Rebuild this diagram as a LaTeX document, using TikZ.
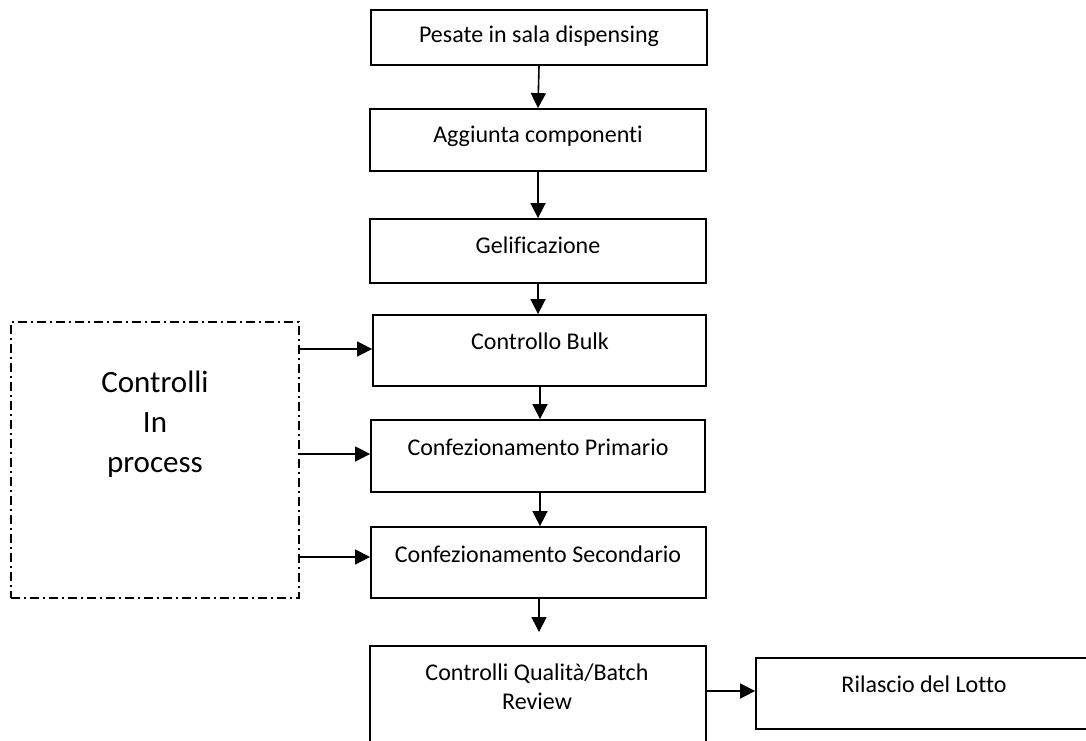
\documentclass[tikz,border=0pt]{standalone}
\usepackage{fontspec}
\setmainfont{Carlito}[Ligatures=NoCommon]
\usetikzlibrary{arrows.meta}
\begin{document}
\begin{tikzpicture}[x=1pt,y=-1pt,
  box/.style={draw, line width=1.8pt, inner sep=0pt},
  dashbox/.style={draw, line width=1.4pt, inner sep=0pt, dash pattern=on 9pt off 4pt on 2pt off 4pt},
  lbl/.style={font=\fontsize{24}{29}\selectfont, inner sep=0pt, align=center},
  biglbl/.style={font=\fontsize{31}{40}\selectfont, inner sep=0pt, align=center},
  arr/.style={line width=1.6pt, -{Triangle[length=15pt,width=15pt]}}]
\useasboundingbox (0,0) rectangle (1086,740);
\clip (0,0) rectangle (1086,740);
% boxes
\node[box, minimum width=336pt, minimum height=55pt] (b1) at (539,37.5) {};
\node[box, minimum width=336pt, minimum height=62pt] (b2) at (538,140) {};
\node[box, minimum width=336pt, minimum height=64pt] (b3) at (538,251) {};
\node[box, minimum width=333pt, minimum height=71pt] (b4) at (539.5,350.5) {};
\node[box, minimum width=334pt, minimum height=72pt] (b5) at (538,456) {};
\node[box, minimum width=335pt, minimum height=71pt] (b6) at (538.5,562.5) {};
\node[box, minimum width=336pt, minimum height=114pt] (b7) at (538,703) {};
\node[box, minimum width=350pt, minimum height=71pt] (b8) at (931,693.5) {};
\node[dashbox, minimum width=288pt, minimum height=276pt] (ctrl) at (155,460) {};
% texts
\node[lbl] (t1) at (539,36) {Pesate in sala dispensing};
\node[lbl] (t2) at (538,136) {Aggiunta componenti};
\node[lbl] (t3) at (538,245) {Gelificazione};
\node[lbl] (t4) at (540,341) {Controllo Bulk};
\node[lbl] (t5) at (538,447) {Confezionamento Primario};
\node[lbl] (t6) at (538,554) {Confezionamento Secondario};
\node[lbl] (t7) at (537,687) {Controlli Qualità/Batch\\Review};
\node[lbl] (t8) at (924,684) {Rilascio del Lotto};
\node[biglbl] (tc) at (155,424) {Controlli\\In\\process};
% vertical arrows
\draw[arr] (b1.south) -- (b2.north);
\draw[arr] (b2.south) -- (b3.north);
\draw[arr] (b3.south) -- (b3.south |- b4.north);
\draw[arr] (b4.south -| 540,0) -- (b5.north -| 540,0);
\draw[arr] (b5.south -| 540,0) -- (b6.north -| 540,0);
\coordinate (a7s) at (539,599);
\coordinate (a7e) at (539,632);
\draw[arr] (a7s) -- (a7e);
\draw[arr] (b7.east |- 0,691) -- (b8.west |- 0,691);
% side arrows
\draw[arr] (ctrl.east |- 0,349) -- (b4.west |- 0,349);
\draw[arr] (ctrl.east |- 0,454) -- (b5.west |- 0,454);
\draw[arr] (ctrl.east |- 0,557) -- (b6.west |- 0,557);
\end{tikzpicture}
\end{document}
